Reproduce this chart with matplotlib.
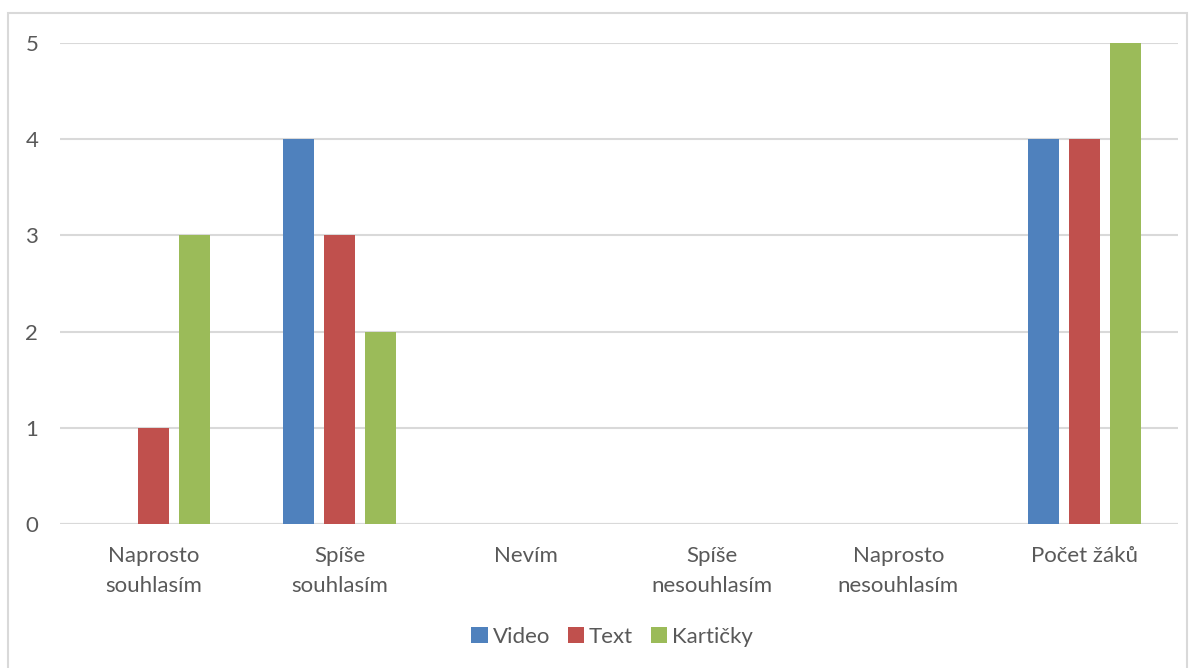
import numpy as np
import matplotlib.pyplot as plt
from matplotlib.patches import Rectangle

categories = ['Naprosto\nsouhlasím', 'Spíše\nsouhlasím', 'Nevím',
              'Spíše\nnesouhlasím', 'Naprosto\nnesouhlasím', 'Počet žáků']
series = ['Video', 'Text', 'Kartičky']
video = [0, 4, 0, 0, 0, 4]
text = [1, 3, 0, 0, 0, 4]
karticky = [3, 2, 0, 0, 0, 5]
colors = ['#4F81BD', '#C0504D', '#9BBB59']

plt.rcParams['font.family'] = ['Lato', 'DejaVu Sans']
grey = '#595959'

fig = plt.figure(figsize=(11.95, 6.68), dpi=100)
W, H = 1195, 668
# chart border
fig.patches.append(Rectangle((8 / W, -0.01), (1187 - 8) / W, (H - 13) / H + 0.01,
                             transform=fig.transFigure, fill=False,
                             edgecolor='#D9D9D9', linewidth=1.5))

ax = fig.add_axes([60.4 / W, 144 / H, (1177.6 - 60.4) / W, (625 - 144) / H])
x = np.arange(len(categories))
w = 0.1665
step = 0.22
for i, (vals, name) in enumerate(zip([video, text, karticky], series)):
    ax.bar(x + (i - 1) * step, vals, width=w, color=colors[i], label=name, zorder=3)

ax.set_xlim(-0.5, len(categories) - 0.5)
ax.set_ylim(0, 5)
ax.set_yticks(range(6))
ax.yaxis.grid(True, color='#D9D9D9', linewidth=1.5, zorder=0)
ax.axhline(0, color='#D9D9D9', linewidth=1.5, zorder=2)
for s in ax.spines.values():
    s.set_visible(False)
ax.set_xticks(x)
ax.set_xticklabels(categories, linespacing=1.63)
ax.tick_params(axis='both', length=0, labelsize=16, colors=grey)
ax.tick_params(axis='y', pad=16)
ax.tick_params(axis='x', pad=16)

ax.legend(loc='center', bbox_to_anchor=(612 / W, 31 / H), bbox_transform=fig.transFigure,
          ncol=3, frameon=False, fontsize=16, labelcolor=grey, handlelength=0.75,
          handleheight=0.75, handletextpad=0.2, columnspacing=0.8)

fig.savefig('out.png', dpi=100)
